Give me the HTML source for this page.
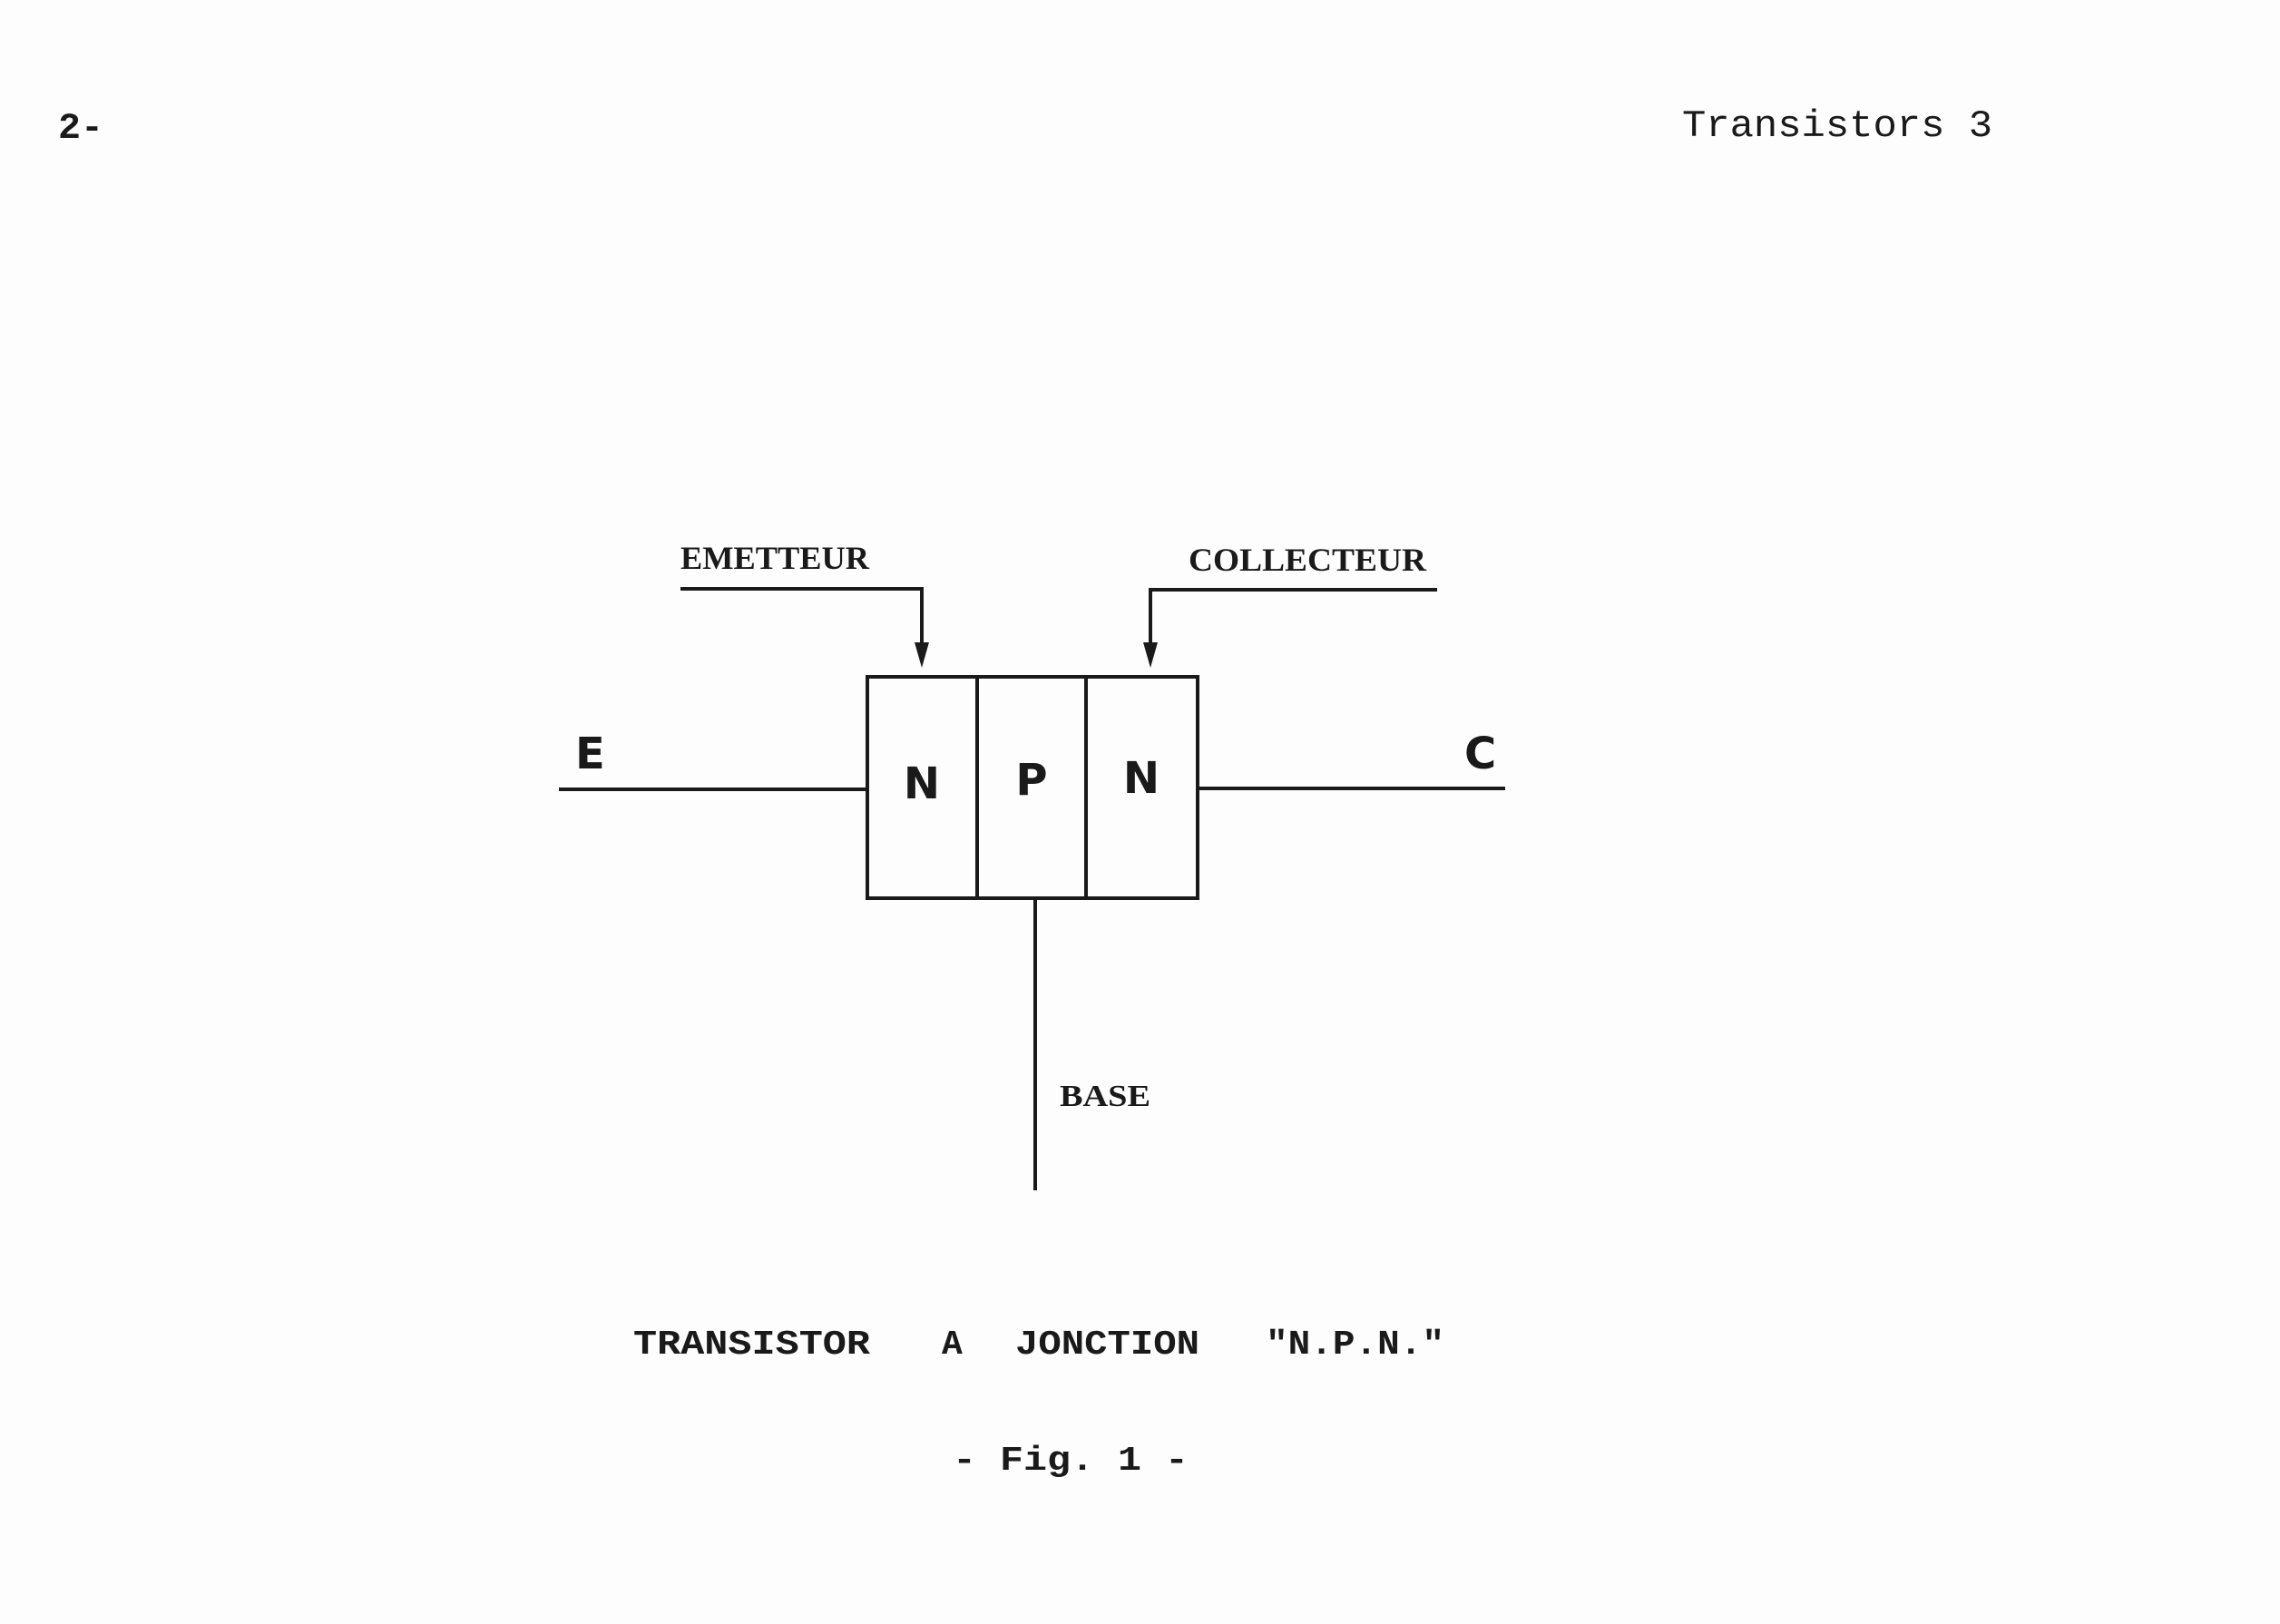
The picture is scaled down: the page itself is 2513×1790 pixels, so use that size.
<!DOCTYPE html>
<html><head><meta charset="utf-8"><style>
html,body{margin:0;padding:0;background:#fff;}
svg{display:block;}
</style></head><body>
<svg width="2513" height="1790" viewBox="0 0 2513 1790" xmlns="http://www.w3.org/2000/svg">
<rect width="2513" height="1790" fill="#fdfdfd"/>
<g font-family="Liberation Mono, monospace" fill="#1a1a1a">
<text x="64" y="152" font-size="40" font-weight="bold" textLength="50" lengthAdjust="spacingAndGlyphs">2-</text>
<text x="1854" y="150" font-size="42" textLength="342" lengthAdjust="spacingAndGlyphs">Transistors 3</text>
<g font-weight="bold">
<text x="698" y="1492" font-size="38" textLength="261" lengthAdjust="spacingAndGlyphs">TRANSISTOR</text>
<text x="1038" y="1492" font-size="38">A</text>
<text x="1119" y="1492" font-size="38" textLength="203" lengthAdjust="spacingAndGlyphs">JONCTION</text>
<text x="1395" y="1492" font-size="38" textLength="197" lengthAdjust="spacingAndGlyphs">"N.P.N."</text>
<text x="1050" y="1620" font-size="38" textLength="260" lengthAdjust="spacingAndGlyphs">- Fig. 1 -</text>
</g>
</g>
<g font-family="Liberation Serif, serif" fill="#1a1a1a" font-weight="bold">
<text x="750" y="627" font-size="36" textLength="208" lengthAdjust="spacingAndGlyphs">EMETTEUR</text>
<text x="1310" y="629" font-size="36" textLength="262" lengthAdjust="spacingAndGlyphs">COLLECTEUR</text>
<text x="1168" y="1219" font-size="34" textLength="100" lengthAdjust="spacingAndGlyphs">BASE</text>
</g>
<g font-family="DejaVu Sans, sans-serif" fill="#1a1a1a" font-weight="bold">
<text x="634" y="847" font-size="48">E</text>
<text x="1614" y="847" font-size="48">C</text>
<text x="1016" y="880" font-size="48" text-anchor="middle">N</text>
<text x="1137" y="876" font-size="48" text-anchor="middle">P</text>
<text x="1258" y="874" font-size="48" text-anchor="middle">N</text>
</g>
<g stroke="#1a1a1a" stroke-width="4" fill="none">
<rect x="956" y="746" width="364" height="244"/>
<line x1="1077" y1="746" x2="1077" y2="990"/>
<line x1="1197" y1="746" x2="1197" y2="990"/>
<line x1="616" y1="870" x2="956" y2="870"/>
<line x1="1320" y1="869" x2="1659" y2="869"/>
<line x1="1141" y1="990" x2="1141" y2="1312"/>
<polyline points="750,649 1016,649 1016,710"/>
<polyline points="1584,650 1268,650 1268,710"/>
</g>
<g fill="#1a1a1a">
<polygon points="1008,708 1024,708 1016,736"/>
<polygon points="1260,708 1276,708 1268,736"/>
</g>
</svg>
</body></html>
